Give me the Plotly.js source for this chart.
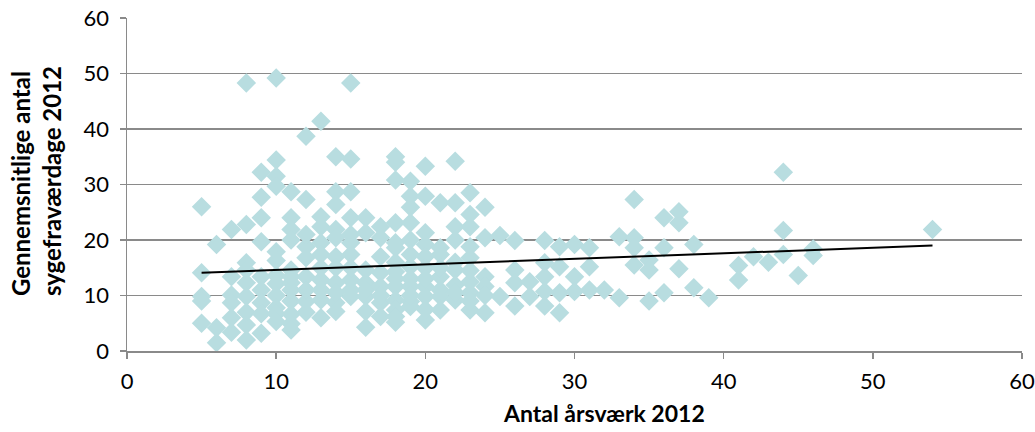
<!DOCTYPE html>
<html>
<head>
<meta charset="utf-8">
<script src="https://cdn.plot.ly/plotly-3.0.1.min.js"></script>
<style>html,body{margin:0;padding:0;background:#fff;}#chart{width:1035px;height:432px;}</style>
</head>
<body>
<div id="chart"></div>
<script>
// Antal årsværk 2012 (x) and gennemsnitlige antal sygefraværdage 2012 (y)
const xVals = [
  5,5,5,5,5,
  6,6,6,
  7,7,7,7,7,7,
  8,8,8,8,8,8,8,8,8,
  9,9,9,9,9,9,9,9,9,
  10,10,10,10,10,10,10,10,10,10,10,10,
  11,11,11,11,11,11,11,11,11,11,11,11,
  12,12,12,12,12,12,12,12,12,
  13,13,13,13,13,13,13,13,13,13,
  14,14,14,14,14,14,14,14,14,14,14,
  15,15,15,15,15,15,15,15,15,15,15,
  16,16,16,16,16,16,16,16,
  17,17,17,17,17,17,17,17,
  18,18,18,18,18,18,18,18,18,18,18,18,18,18,
  19,19,19,19,19,19,19,19,19,19,19,19,
  20,20,20,20,20,20,20,20,20,20,20,
  21,21,21,21,21,21,21,21,
  22,22,22,22,22,22,22,22,22,
  23,23,23,23,23,23,23,23,23,23,
  24,24,24,24,24,24,
  25,25,
  26,26,26,26,
  27,27,
  28,28,28,28,28,
  29,29,29,29,
  30,30,30,
  31,31,31,
  32,
  33,33,
  34,34,34,34,
  35,35,35,
  36,36,36,
  37,37,37,
  38,38,
  39,
  41,41,
  42,
  43,
  44,44,44,
  45,
  46,46,
  54
];
const yVals = [
  26,14.1,9.8,9,5,
  19.2,4.2,1.5,
  21.9,13.4,10.1,8.7,3.4,6,
  48.3,22.8,15.9,14.6,12.3,9.8,4.7,2,7,
  32.2,27.7,24,19.7,13.4,11,8.7,6.7,3.2,
  49.2,34.4,31.5,29.7,17.9,16.3,13.6,12.1,10,7.8,6.7,5.3,
  28.7,24,21.9,20,14.6,12.3,9,6.6,4.9,3.8,11,13.4,
  38.7,27.3,18.8,16.8,13.4,8.9,21,11,7,
  41.4,24.2,22.4,19.5,17.4,12.8,9.2,6,15,11,
  35,28.7,26.4,21.9,20.4,17,12.3,8.7,7.1,15,10.5,
  48.3,34.6,28.7,24,19.5,17.4,12.8,9.8,21,15,11,
  24,21.3,14.6,12.3,9.8,7.1,4.3,11,
  22.4,20.4,14.1,11.6,8.7,6.2,10,17,
  35,34,30.8,23.1,19.5,18.6,14.3,11.6,9.2,7.4,6.2,5.2,13,16,
  30.6,27.9,25.9,23.1,20,17.4,15.2,11.6,8.9,8,13,10,
  33.3,27.9,21.3,19.2,17,15,11.6,9.8,5.6,13,7.5,
  26.7,18.6,17.4,13.4,9.8,7.4,11,15,
  34.2,26.7,22.4,20,14.6,11.9,9.2,16,10.5,
  28.5,24.6,22.4,18.8,16.8,12.5,10.5,7.4,14.5,9,
  25.9,20.4,13.4,11.6,6.9,10,
  20.8,9.8,
  19.9,14.6,12.3,8.1,
  12.5,9.8,
  19.9,15.9,13.4,10.7,8.1,
  18.8,15.2,10.5,6.9,
  19.2,13.4,10.7,
  18.6,15.2,11,
  11,
  20.6,9.6,
  27.3,20.4,18.6,15.5,
  16.4,14.6,9.0,
  24,18.6,10.5,
  25.1,23.1,14.8,
  19.2,11.4,
  9.6,
  15.4,12.8,
  17,
  16,
  32.2,21.7,17.4,
  13.6,
  18.4,17.2,
  21.9
];
// Linear trend line endpoints
const trendX = [5, 54];
const trendY = [14.1, 19.0];

const xTicks = [0, 10, 20, 30, 40, 50, 60];
const yTicks = [0, 10, 20, 30, 40, 50, 60];
const xTitle = 'Antal årsværk 2012';
const yTitle = 'Gennemsnitlige antal<br>sygefraværdage 2012';

const FONT = 'Lato, "Open Sans", sans-serif';
const AXIS = '#8a8a8a';

const data = [
  {
    type: 'scatter', mode: 'markers', x: xVals, y: yVals,
    marker: {symbol: 'diamond', size: 15, color: '#b8dde0', line: {width: 0}},
    hoverinfo: 'skip', showlegend: false
  },
  {
    type: 'scatter', mode: 'lines', x: trendX, y: trendY,
    line: {color: '#000000', width: 2}, hoverinfo: 'skip', showlegend: false
  }
];

const layout = {
  width: 1035, height: 432,
  margin: {l: 127, r: 13, t: 18, b: 81},
  paper_bgcolor: '#ffffff', plot_bgcolor: '#ffffff',
  font: {family: FONT, size: 22, color: '#000000'},
  showlegend: false,
  xaxis: {
    range: [0, 60], tickvals: xTicks, ticktext: xTicks.map(String),
    showgrid: false, zeroline: false,
    showline: true, linecolor: AXIS, linewidth: 1.5,
    ticks: 'outside', ticklen: 6, tickcolor: AXIS, tickwidth: 1.5,
    ticklabelstandoff: 4,
    tickfont: {family: FONT, size: 22, color: '#000'}
  },
  yaxis: {
    range: [0, 60], tickvals: yTicks, ticktext: yTicks.map(String),
    showgrid: true, gridcolor: AXIS, gridwidth: 1.5, zeroline: false,
    showline: true, linecolor: AXIS, linewidth: 1.5,
    ticks: 'outside', ticklen: 6, tickcolor: AXIS, tickwidth: 1.5,
    ticklabelstandoff: 6,
    tickfont: {family: FONT, size: 22, color: '#000'}
  },
  annotations: [
    {
      text: '<b>' + xTitle + '</b>', xref: 'paper', yref: 'paper',
      x: 0.533, y: -0.186, xanchor: 'center', yanchor: 'middle', showarrow: false,
      font: {family: FONT, size: 23, color: '#000'}
    },
    {
      text: '<b>' + yTitle + '</b>', xref: 'paper', yref: 'paper',
      x: -0.066, y: 0.51, xanchor: 'right', yanchor: 'middle', showarrow: false,
      textangle: -90, align: 'left',
      font: {family: FONT, size: 24, color: '#000'}
    }
  ]
};

Plotly.newPlot('chart', data, layout, {staticPlot: true, displayModeBar: false});
</script>
</body>
</html>
